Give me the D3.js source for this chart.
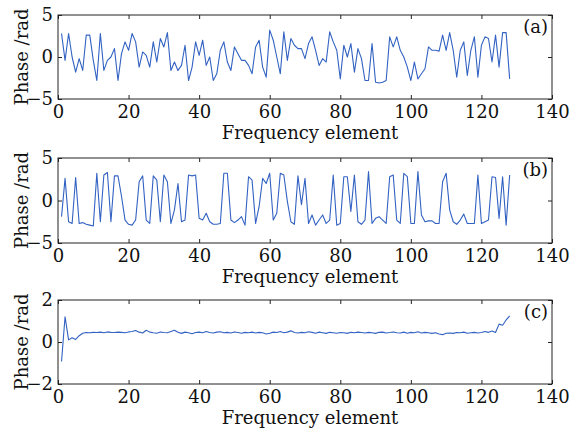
<!DOCTYPE html>
<html><head><meta charset="utf-8">
<script src="https://cdn.jsdelivr.net/npm/d3@7/dist/d3.min.js"></script>
<style>
body{margin:0;background:#fff;}
svg text{font-family:"DejaVu Serif","Liberation Serif",serif;fill:#111;}
</style>
</head><body>
<svg id="chart" width="582" height="437"></svg>
<script>
// ---- data ----
const freq = d3.range(1, 129); // frequency element index 1..128
const phaseA = [
 2.8, -0.4, 2.8, 0, -1.8, -0.2, -1.6, 2.6, 2.6, -0.4,
 -2.8, 2.8, -1.6, -0.4, 0, 1.0, -2.8, 0.4, 1.8, 0.8,
 2.8, 1.8, -1.2, 0.6, 0.2, -1.2, 1.8, -0.6, 2.2, 1.2,
 2.9, -1.6, -0.6, -1.6, -1.0, 1.4, -2.8, -1.2, 1.8, 0.2,
 2.0, -1.0, 0, -2.8, -2.0, 0.8, 1.8, -0.6, -1.6, 1.2,
 0.4, -0.4, -0.4, -1.0, -2.0, 1.2, 2.0, -1.2, -2.4, 3.2,
 2.0, 0, -2.0, 3.0, -0.4, 2.2, 1.4, 1.0, 1.0, -0.2,
 1.6, 2.4, 0.8, -1.0, -0.2, -0.6, 3.0, 1.8, 0.8, -2.6,
 1.4, 0, 1.6, -1.8, 1.0, -0.2, -2.8, -2.8, 1.6, -3.0,
 -3.1, -3.0, -2.8, 2.4, 1.2, 2.4, 0.8, 0, -1.2, -2.8,
 -0.6, -2.6, -2.0, -1.4, 1.2, 0.8, 0.8, 0.7, 2.6, 0.8,
 2.9, 0.8, -2.4, 0.8, 1.8, -2.2, 0.8, 2.4, -2.4, 1.4,
 2.4, 2.2, -0.6, 2.6, -1.2, 2.9, 2.9, -2.6
];
const phaseB = [
 -1.9, 2.6, -2.5, -2.7, 2.7, -2.7, -2.6, -2.8, -2.9, -3.0,
 3.2, -2.5, 3.0, 3.3, -2.5, 2.9, 2.9, 0.5, -2.3, -2.8,
 -2.9, -2.3, 2.2, 2.9, -2.3, -2.7, 2.9, 2.4, -2.5, 3.0,
 2.2, -2.7, -1.1, 2.0, -2.5, -2.3, 3.0, 2.9, 3.0, -2.1,
 -2.3, -1.5, -2.5, -2.8, -2.8, -2.7, 3.2, 3.2, -2.3, -2.6,
 -2.3, -1.9, -2.9, 2.8, 2.4, -2.7, -0.7, 2.6, 2.0, 3.2,
 -2.3, -1.5, 3.2, 3.0, -0.1, -2.5, -2.8, 2.9, -0.5, 2.6,
 -2.7, -1.7, -2.9, -2.3, -1.7, -2.7, -2.3, 3.0, -2.9, -2.7,
 2.8, 2.8, -1.3, 3.0, -2.5, -2.8, -2.3, 3.4, -2.7, -2.1,
 -1.9, -2.3, -2.7, 2.8, 3.0, -2.3, -2.7, 3.2, 2.8, -2.7,
 -2.7, 3.4, -1.7, -2.5, -2.4, -2.4, -2.7, -2.7, 2.2, 3.2,
 -1.1, -2.5, -2.8, -2.3, -1.6, -2.7, -2.7, -2.7, 3.0, -2.7,
 -2.5, -2.3, 2.8, 2.7, -2.1, 2.8, -2.9, 3.0
];
const phaseC = [
 -0.93, 1.2, 0.1, 0.2, 0.12, 0.3, 0.42, 0.45, 0.44, 0.46,
 0.45, 0.47, 0.44, 0.48, 0.46, 0.45, 0.47, 0.46, 0.44, 0.48,
 0.5, 0.55, 0.47, 0.43, 0.56, 0.47, 0.44, 0.42, 0.48, 0.45,
 0.44, 0.5, 0.56, 0.46, 0.41, 0.47, 0.44, 0.39, 0.45, 0.47,
 0.44, 0.5, 0.45, 0.43, 0.47, 0.49, 0.44, 0.46, 0.43, 0.48,
 0.45, 0.42, 0.46, 0.44, 0.47, 0.43, 0.46, 0.44, 0.38, 0.42,
 0.47, 0.45, 0.5, 0.44, 0.47, 0.53, 0.45, 0.43, 0.46, 0.44,
 0.49, 0.46, 0.42, 0.47, 0.44, 0.41, 0.46, 0.44, 0.42, 0.45,
 0.44, 0.41, 0.46, 0.44, 0.47, 0.45, 0.43, 0.46, 0.44, 0.41,
 0.46, 0.47, 0.43, 0.45, 0.48, 0.44, 0.43, 0.47, 0.42, 0.46,
 0.44, 0.49, 0.43, 0.46, 0.44, 0.41, 0.44, 0.38, 0.35, 0.42,
 0.43, 0.41, 0.45, 0.44, 0.47, 0.42, 0.44, 0.46, 0.43, 0.45,
 0.5, 0.46, 0.52, 0.45, 0.85, 0.8, 1.05, 1.24
];
const xTicks = [0, 20, 40, 60, 80, 100, 120, 140];
const yTicksAB = [-5, 0, 5];
const yTicksC = [-2, 0, 2];
const panelLabels = ["(a)", "(b)", "(c)"];
const xTitle = "Frequency element";
const yTitle = "Phase /rad";

// ---- layout ----
const svg = d3.select("#chart");
const left = 58, right = 552;
const lineColor = "#3262c2";
const fs = 18;
const panels = [
  {values: phaseA, domain: [-5, 5], ticks: yTicksAB, label: panelLabels[0], top: 15, bottom: 99},
  {values: phaseB, domain: [-5, 5], ticks: yTicksAB, label: panelLabels[1], top: 158, bottom: 243},
  {values: phaseC, domain: [-2, 2], ticks: yTicksC, label: panelLabels[2], top: 300, bottom: 384}
];
const x = d3.scaleLinear().domain([0, 140]).range([left, right]);
const fmt = d => (d < 0 ? "\u2212" + Math.abs(d) : String(d));

panels.forEach(p => {
  const y = d3.scaleLinear().domain(p.domain).range([p.bottom, p.top]);
  const g = svg.append("g");

  // data line
  g.append("path")
    .datum(freq.map((f, i) => [f, p.values[i]]))
    .attr("fill", "none").attr("stroke", lineColor).attr("stroke-width", 1.1)
    .attr("stroke-linejoin", "round")
    .attr("d", d3.line().x(d => x(d[0])).y(d => y(d[1])));

  // axes (ticks inward)
  const xb = g.append("g").attr("transform", `translate(0,${p.bottom})`)
    .call(d3.axisBottom(x).tickValues(xTicks).tickSizeInner(-4).tickSizeOuter(0).tickPadding(6).tickFormat(fmt));
  const xt = g.append("g").attr("transform", `translate(0,${p.top})`)
    .call(d3.axisTop(x).tickValues(xTicks).tickSizeInner(-4).tickSizeOuter(0).tickFormat(""));
  const yl = g.append("g").attr("transform", `translate(${left},0)`)
    .call(d3.axisLeft(y).tickValues(p.ticks).tickSizeInner(-4).tickSizeOuter(0).tickPadding(5).tickFormat(fmt));
  const yr = g.append("g").attr("transform", `translate(${right},0)`)
    .call(d3.axisRight(y).tickValues(p.ticks).tickSizeInner(-4).tickSizeOuter(0).tickFormat(""));
  [xb, xt, yl, yr].forEach(a => {
    a.select(".domain").remove();
    a.selectAll("line").attr("stroke", "#222");
    a.selectAll("text").attr("font-size", fs).attr("fill", "#111")
      .style("font-family", '"DejaVu Serif","Liberation Serif",serif');
  });

  // frame
  g.append("rect").attr("x", left).attr("y", p.top)
    .attr("width", right - left).attr("height", p.bottom - p.top)
    .attr("fill", "none").attr("stroke", "#222").attr("stroke-width", 1);

  // titles
  g.append("text").attr("x", 310).attr("y", p.bottom + 40)
    .attr("text-anchor", "middle").attr("font-size", fs).text(xTitle);
  g.append("text")
    .attr("transform", `translate(28,${(p.top + p.bottom) / 2}) rotate(-90)`)
    .attr("text-anchor", "middle").attr("font-size", fs).text(yTitle);
  g.append("text").attr("x", right - 4).attr("y", p.top + 18)
    .attr("text-anchor", "end").attr("font-size", fs).text(p.label);
});
</script>
</body></html>
